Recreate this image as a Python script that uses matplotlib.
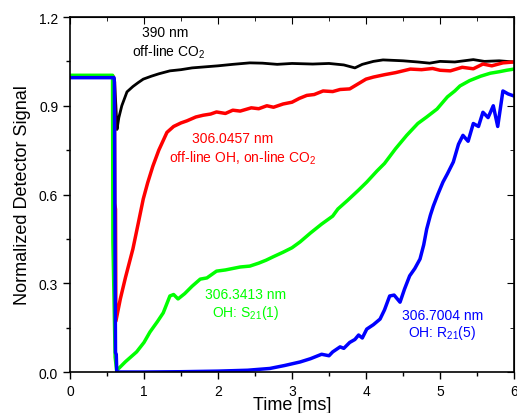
import numpy as np
import matplotlib
matplotlib.use("Agg")
import matplotlib.pyplot as plt
from matplotlib.ticker import MultipleLocator

plt.rcParams['font.family'] = ['Liberation Sans', 'DejaVu Sans']
plt.rcParams['mathtext.fontset'] = 'custom'
plt.rcParams['mathtext.rm'] = 'Liberation Sans'
plt.rcParams['mathtext.it'] = 'Liberation Sans'

# values (time in ms, normalized signal)
t_black = [0, 0.58, 0.6, 0.62, 0.635, 0.66, 0.7, 0.77, 0.85, 0.92, 0.99, 1.1, 1.2, 1.35,
           1.5, 1.65, 1.8, 2.0, 2.2, 2.43, 2.6, 2.8, 3.0, 3.28, 3.5, 3.7, 3.85, 3.95, 4.1,
           4.23, 4.5, 4.7, 4.86, 5.0, 5.2, 5.45, 5.6, 5.8, 6.0]
v_black = [1.0, 1.0, 0.99, 0.9, 0.82, 0.86, 0.9, 0.947, 0.965, 0.978, 0.99, 1.0, 1.008, 1.018,
           1.022, 1.028, 1.031, 1.035, 1.04, 1.045, 1.044, 1.04, 1.043, 1.041, 1.043, 1.038, 1.028,
           1.04, 1.05, 1.055, 1.052, 1.048, 1.044, 1.05, 1.048, 1.056, 1.05, 1.052, 1.048]

t_red = [0, 0.58, 0.6, 0.605, 0.615, 0.62, 0.68, 0.75, 0.85, 0.92, 0.99, 1.05, 1.12, 1.2, 1.31,
         1.4, 1.5, 1.58, 1.7, 1.8, 1.9, 1.98, 2.1, 2.2, 2.3, 2.45, 2.55, 2.66, 2.75, 2.88, 3.0,
         3.1, 3.2, 3.3, 3.42, 3.55, 3.65, 3.78, 3.9, 4.0, 4.1, 4.25, 4.4, 4.6, 4.75, 4.9, 5.0,
         5.14, 5.3, 5.45, 5.58, 5.7, 5.85, 6.0]
v_red = [1.0, 1.0, 0.98, 0.57, 0.55, 0.172, 0.247, 0.32, 0.416, 0.5, 0.585, 0.64, 0.696, 0.75,
         0.81, 0.83, 0.842, 0.849, 0.862, 0.868, 0.872, 0.879, 0.874, 0.885, 0.882, 0.893, 0.89,
         0.9, 0.895, 0.906, 0.912, 0.925, 0.935, 0.938, 0.95, 0.948, 0.955, 0.957, 0.975, 0.99,
         0.997, 1.005, 1.012, 1.024, 1.022, 1.026, 1.02, 1.018, 1.03, 1.025, 1.041, 1.035,
         1.045, 1.048]

t_green = [0, 0.575, 0.58, 0.61, 0.63, 0.65, 0.75, 0.9, 1.0, 1.08, 1.18, 1.26, 1.35, 1.4, 1.46,
           1.55, 1.65, 1.76, 1.85, 1.98, 2.1, 2.2, 2.3, 2.43, 2.55, 2.65, 2.75, 2.88, 3.0, 3.11,
           3.25, 3.4, 3.55, 3.62, 3.75, 3.9, 4.01, 4.15, 4.25, 4.4, 4.55, 4.7, 4.82, 4.96, 5.1,
           5.2, 5.27, 5.4, 5.55, 5.68, 5.8, 5.9, 6.0]
v_green = [1.003, 1.003, 0.44, 0.05, 0.005, 0.01, 0.035, 0.068, 0.1, 0.135, 0.17, 0.2, 0.257,
           0.262, 0.247, 0.265, 0.29, 0.314, 0.318, 0.341, 0.345, 0.35, 0.355, 0.358, 0.368,
           0.378, 0.39, 0.405, 0.42, 0.44, 0.47, 0.5, 0.527, 0.551, 0.58, 0.615, 0.642, 0.68,
           0.705, 0.755, 0.8, 0.84, 0.862, 0.889, 0.93, 0.95, 0.967, 0.985, 1.0, 1.01, 1.015,
           1.02, 1.024]

t_blue = [0, 0.595, 0.6, 0.61, 0.615, 0.625, 0.632, 0.7, 1.0, 1.5, 2.0, 2.4, 2.7, 2.9, 3.11,
          3.25, 3.4, 3.5, 3.55, 3.65, 3.7, 3.78, 3.85, 3.9, 3.95, 4.01, 4.1, 4.19, 4.25, 4.32,
          4.38, 4.46, 4.52, 4.59, 4.66, 4.73, 4.78, 4.82, 4.87, 4.91, 4.97, 5.04, 5.1, 5.18,
          5.25, 5.31, 5.38, 5.45, 5.52, 5.58, 5.65, 5.72, 5.78, 5.85, 5.92, 6.0]
v_blue = [0.995, 0.995, 0.98, 0.3, 0.065, 0.06, 0.0, 0.0, 0.0, 0.001, 0.003, 0.006, 0.012,
          0.022, 0.034, 0.045, 0.06, 0.055, 0.068, 0.085, 0.08, 0.1, 0.11, 0.125, 0.115, 0.145,
          0.16, 0.179, 0.21, 0.257, 0.26, 0.236, 0.28, 0.325, 0.35, 0.382, 0.43, 0.483, 0.53,
          0.561, 0.6, 0.642, 0.67, 0.71, 0.77, 0.8, 0.78, 0.84, 0.83, 0.878, 0.86, 0.9, 0.83,
          0.95, 0.94, 0.933]

fig = plt.figure(figsize=(5.17, 4.14), dpi=100)
ax = fig.add_axes([0.1354, 0.099, 0.8588, 0.8575])

ax.plot(t_black, v_black, color='black', lw=2)
ax.plot(t_red, v_red, color='#ff0000', lw=2.5)
ax.plot(t_green, v_green, color='#00ff00', lw=2.5)
ax.plot(t_blue, v_blue, color='#0000ff', lw=2.5)

ax.set_xlim(0, 6)
ax.set_ylim(0, 1.2)
ax.xaxis.set_major_locator(MultipleLocator(1))
ax.xaxis.set_minor_locator(MultipleLocator(0.5))
ax.yaxis.set_major_locator(MultipleLocator(0.3))
ax.yaxis.set_minor_locator(MultipleLocator(0.15))
ax.yaxis.set_major_formatter(matplotlib.ticker.FormatStrFormatter('%.1f'))
ax.tick_params(which='both', direction='out', labelsize=10, width=1)
ax.tick_params(which='major', length=5)
ax.tick_params(which='minor', length=3)
for sp in ax.spines.values():
    sp.set_linewidth(1.2)

# mirrored inward ticks on top and right
axt = ax.secondary_xaxis('top')
axt.xaxis.set_major_locator(MultipleLocator(1))
axt.xaxis.set_minor_locator(MultipleLocator(0.5))
axt.tick_params(which='both', direction='in', labeltop=False)
axt.tick_params(which='major', length=5)
axt.tick_params(which='minor', length=3)
axr = ax.secondary_yaxis('right')
axr.yaxis.set_major_locator(MultipleLocator(0.3))
axr.yaxis.set_minor_locator(MultipleLocator(0.15))
axr.tick_params(which='both', direction='in', labelright=False)
axr.tick_params(which='major', length=5)
axr.tick_params(which='minor', length=3)

ax.set_xlabel('Time [ms]', fontsize=13, labelpad=-1)
ax.set_ylabel('Normalized Detector Signal', fontsize=13, labelpad=6)

fs = 10
ax.text(1.28, 1.15, '390 nm', color='black', fontsize=fs, ha='center', va='center')
ax.text(1.33, 1.085, 'off-line CO$_2$', color='black', fontsize=fs, ha='center', va='center')
ax.text(2.2, 0.79, '306.0457 nm', color='#ff0000', fontsize=fs, ha='center', va='center')
ax.text(2.33, 0.727, 'off-line OH, on-line CO$_2$', color='#ff0000', fontsize=fs, ha='center', va='center')
ax.text(2.37, 0.264, '306.3413 nm', color='#00ff00', fontsize=fs, ha='center', va='center')
ax.text(2.37, 0.204, 'OH: S$_{21}$(1)', color='#00ff00', fontsize=fs, ha='center', va='center')
ax.text(5.03, 0.193, '306.7004 nm', color='#0000ff', fontsize=fs, ha='center', va='center')
ax.text(5.03, 0.135, 'OH: R$_{21}$(5)', color='#0000ff', fontsize=fs, ha='center', va='center')

fig.savefig('out.png', dpi=100)
